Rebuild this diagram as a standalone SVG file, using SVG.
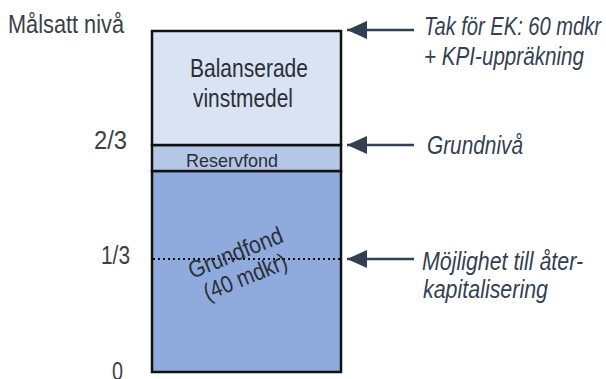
<svg xmlns="http://www.w3.org/2000/svg" width="606" height="379" viewBox="0 0 606 379">
  <defs>
    <marker id="arrowHead" viewBox="0 0 20 18" refX="20" refY="9" markerWidth="20" markerHeight="18" markerUnits="userSpaceOnUse" orient="auto">
      <path d="M20,9 L0,0 L0,18 Z" fill="#333f52"/>
    </marker>
    <style>
      .lbl { font-family: "Liberation Sans", Arial, sans-serif; fill: #2b2f36; }
      .axis { font-size: 25px; fill: #3a3f48; }
      .note { font-size: 25px; font-style: italic; fill: #333f52; }
      .seg { stroke: #111; stroke-width: 2.5; }
      .conn { stroke: #333f52; stroke-width: 2.5; fill: none; }
    </style>
  </defs>

  <!-- axis labels -->
  <g id="axis-labels" class="lbl axis">
    <text x="8" y="33" textLength="116" lengthAdjust="spacingAndGlyphs">Målsatt nivå</text>
    <text x="94" y="149" textLength="33" lengthAdjust="spacingAndGlyphs">2/3</text>
    <text x="101" y="264" textLength="29" lengthAdjust="spacingAndGlyphs">1/3</text>
    <text x="112" y="380" textLength="11" lengthAdjust="spacingAndGlyphs">0</text>
  </g>

  <!-- capital stack -->
  <g id="grundfond">
    <rect class="seg" x="152" y="171" width="189" height="201" fill="#8faadc"/>
    <line x1="153" y1="259" x2="340" y2="259" stroke="#111" stroke-width="2" stroke-dasharray="2,3"/>
    <g transform="translate(240,264) rotate(-22)" class="lbl" font-size="24">
      <text x="-50" y="-4" textLength="100" lengthAdjust="spacingAndGlyphs">Grundfond</text>
      <text x="-44" y="22" textLength="88" lengthAdjust="spacingAndGlyphs">(40 mdkr)</text>
    </g>
  </g>
  <g id="reservfond">
    <rect class="seg" x="152" y="145" width="189" height="26" fill="#b4c7e7"/>
    <text class="lbl" x="186" y="167" font-size="19" textLength="92" lengthAdjust="spacingAndGlyphs">Reservfond</text>
  </g>
  <g id="balanserade">
    <rect class="seg" x="152" y="31" width="189" height="114" fill="#dae3f3"/>
    <text class="lbl" x="190" y="77" font-size="25" textLength="118" lengthAdjust="spacingAndGlyphs">Balanserade</text>
    <text class="lbl" x="193" y="107" font-size="25" textLength="100" lengthAdjust="spacingAndGlyphs">vinstmedel</text>
  </g>

  <!-- pointers -->
  <g id="connectors">
    <line class="conn" x1="414" y1="30" x2="347" y2="30" marker-end="url(#arrowHead)"/>
    <line class="conn" x1="414" y1="145" x2="347" y2="145" marker-end="url(#arrowHead)"/>
    <line class="conn" x1="414" y1="259" x2="347" y2="259" marker-end="url(#arrowHead)"/>
  </g>

  <!-- annotations -->
  <g id="note-tak" class="lbl note">
    <text x="424" y="35" textLength="177" lengthAdjust="spacingAndGlyphs">Tak för EK: 60 mdkr</text>
    <text x="424" y="65" textLength="160" lengthAdjust="spacingAndGlyphs">+ KPI-uppräkning</text>
  </g>
  <g id="note-grundniva" class="lbl note">
    <text x="427" y="154" textLength="96" lengthAdjust="spacingAndGlyphs">Grundnivå</text>
  </g>
  <g id="note-ater" class="lbl note">
    <text x="422" y="270" textLength="161" lengthAdjust="spacingAndGlyphs">Möjlighet till åter-</text>
    <text x="423" y="298" textLength="125" lengthAdjust="spacingAndGlyphs">kapitalisering</text>
  </g>
</svg>
